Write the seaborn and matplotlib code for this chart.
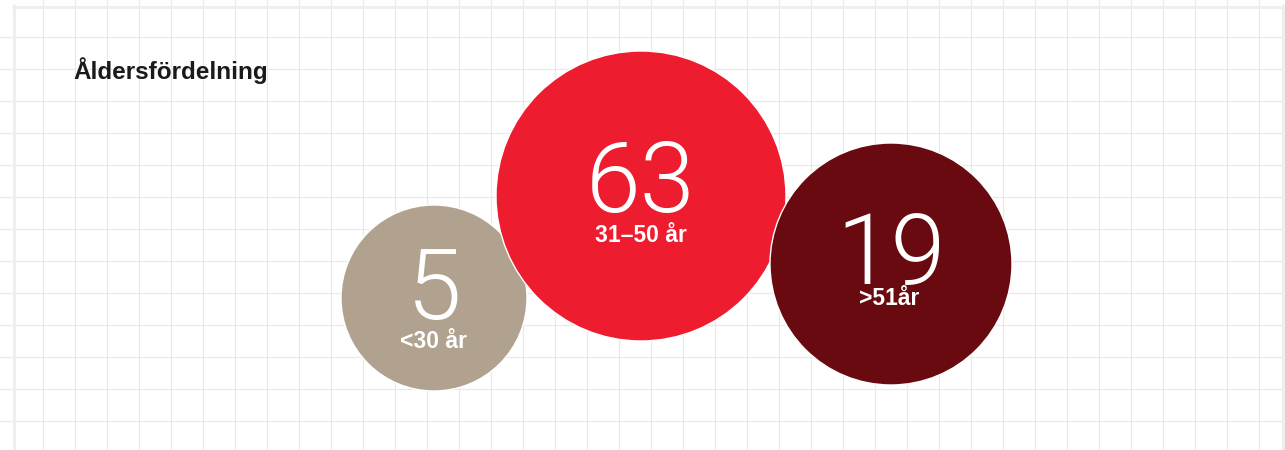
import matplotlib
matplotlib.use("Agg")
import matplotlib.pyplot as plt
import seaborn as sns
import pandas as pd

# ---- data ----
categories = ["<30 år", "31–50 år", ">51år"]
values = [5, 63, 19]
title = "Åldersfördelning"

# ---- layout (pixel space) ----
centers_x = [434, 641, 891]
centers_y = [298, 196, 264]
radii_px = [93, 145, 121]
colors = ["#B0A28E", "#ED1C2E", "#680A10"]
num_baseline = [319, 212, 284]
lab_baseline = [348, 242, 305]
lab_x = [434, 641, 889]

W, H, DPI = 1285, 450, 100

sns.set_theme(style="white")
plt.rcParams["font.family"] = ["Roboto", "DejaVu Sans"]

fig = plt.figure(figsize=(W / DPI, H / DPI), dpi=DPI)
ax = fig.add_axes([0, 0, 1, 1])

grid_c = "#e9e9e9"
lw_px = 72 / DPI
for k in range(39):
    ax.axvline(43 + 32 * k, color=grid_c, lw=1.2 * lw_px, zorder=0)
for k in range(13):
    ax.axhline(37 + 32 * k, color=grid_c, lw=1.2 * lw_px, zorder=0)
# frame
ax.axhline(6.5, xmin=13 / W, xmax=1284 / W, color="#eeeeee", lw=3 * lw_px, zorder=0)
ax.axvline(14, ymin=0, ymax=1 - 5 / H, color="#eeeeee", lw=3 * lw_px, zorder=0)
ax.axvline(1283, ymin=0, ymax=1 - 5 / H, color="#eeeeee", lw=3 * lw_px, zorder=0)

df = pd.DataFrame({"cat": categories, "value": values, "x": centers_x, "y": centers_y})
sizes = {v: (2 * r * 72 / DPI) ** 2 for v, r in zip(values, radii_px)}
sns.scatterplot(data=df, x="x", y="y", hue="cat", palette=dict(zip(categories, colors)),
                size="value", sizes=sizes, legend=False, edgecolor="white",
                linewidth=1.0, alpha=1, ax=ax, zorder=2)
ax.set_xlim(0, W)
ax.set_ylim(H, 0)
ax.axis("off")

for i, (c, v) in enumerate(zip(categories, values)):
    ax.text(centers_x[i], num_baseline[i], str(v), ha="center", va="baseline",
            color="white", fontsize=71, fontweight=300, zorder=3)
    ax.text(lab_x[i], lab_baseline[i], c, ha="center", va="baseline",
            color="white", fontsize=16.5, fontweight="bold",
            family=["Liberation Sans", "DejaVu Sans"], zorder=3)

ax.text(73, 79, title, ha="left", va="baseline", color="#1a1a1a", fontsize=17.5,
        fontweight="bold", family=["Liberation Sans", "DejaVu Sans"], zorder=3)

fig.savefig("out.png", dpi=DPI, facecolor="white")
